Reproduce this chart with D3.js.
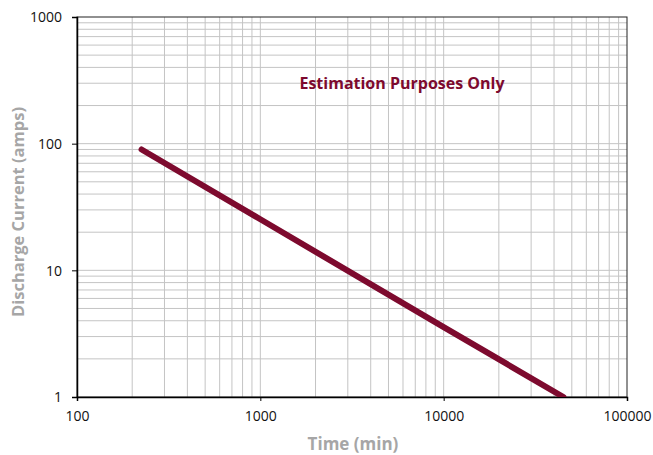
<!DOCTYPE html>
<html>
<head>
<meta charset="utf-8">
<script src="https://cdn.jsdelivr.net/npm/d3@7"></script>
<style>
  body { margin: 0; background: #fff; }
  svg { font-family: "Open Sans", sans-serif; }
</style>
</head>
<body>
<div id="chart"></div>
<script>
// data
const timeMin = [225, 1000, 10000, 45000];
const currentAmps = [90, 25.3, 3.56, 1];
const xTicks = [100, 1000, 10000, 100000];
const yTicks = [1, 10, 100, 1000];

const W = 653, H = 455;
const margin = { top: 17, right: 26, bottom: 58, left: 77 };
const width = W - margin.left - margin.right;
const height = H - margin.top - margin.bottom;

const svg = d3.select("#chart").append("svg")
  .attr("width", W)
  .attr("height", H);

const g = svg.append("g")
  .attr("transform", `translate(${margin.left},${margin.top})`);

const x = d3.scaleLog().domain([100, 100000]).range([0, width]);
const y = d3.scaleLog().domain([1, 1000]).range([height, 0]);

// minor grid values 2..9 per decade
const minor = (lo, hi) => {
  const out = [];
  for (let d = lo; d < hi; d *= 10) {
    for (let k = 1; k <= 9; k++) out.push(d * k);
  }
  return out.filter(v => v > lo && v < hi);
};

// gridlines
g.append("g").selectAll("line")
  .data(minor(100, 100000))
  .join("line")
  .attr("x1", d => x(d)).attr("x2", d => x(d))
  .attr("y1", 0).attr("y2", height)
  .attr("stroke", "#c4c4c4")
  .attr("stroke-width", 1);

g.append("g").selectAll("line")
  .data(minor(1, 1000))
  .join("line")
  .attr("y1", d => y(d)).attr("y2", d => y(d))
  .attr("x1", 0).attr("x2", width)
  .attr("stroke", "#c4c4c4")
  .attr("stroke-width", 1);

// frame
g.append("rect")
  .attr("width", width)
  .attr("height", height)
  .attr("fill", "none")
  .attr("stroke", "#222")
  .attr("stroke-width", 1);

// axes
const xAxis = d3.axisBottom(x).tickValues(xTicks).tickFormat(d3.format("d")).tickSize(4).tickPadding(10);
const yAxis = d3.axisLeft(y).tickValues(yTicks).tickFormat(d3.format("d")).tickSize(5).tickPadding(10);

const gx = g.append("g")
  .attr("transform", `translate(0,${height})`)
  .call(xAxis);
const gy = g.append("g").call(yAxis);

[gx, gy].forEach(a => {
  a.select(".domain").attr("stroke", "#000").attr("stroke-width", 1.5);
  a.selectAll(".tick line").attr("stroke", "#000");
  a.selectAll(".tick text")
    .attr("fill", "#111")
    .style("font-size", "14px")
    .style("font-family", "'Open Sans', sans-serif");
});
gy.selectAll(".tick text").attr("dy", "0.35em");

// clip
svg.append("defs").append("clipPath").attr("id", "plot-clip")
  .append("rect").attr("width", width).attr("height", height);

// line
const line = d3.line()
  .x((d, i) => x(timeMin[i]))
  .y(d => y(d));

g.append("path")
  .datum(currentAmps)
  .attr("clip-path", "url(#plot-clip)")
  .attr("fill", "none")
  .attr("stroke", "#7d0a2e")
  .attr("stroke-width", 6)
  .attr("stroke-linecap", "round")
  .attr("d", line);

// annotation
g.append("text")
  .attr("x", 402 - margin.left)
  .attr("y", 89 - margin.top)
  .attr("text-anchor", "middle")
  .attr("fill", "#7d0a2e")
  .style("font-size", "16px")
  .style("font-weight", "700")
  .text("Estimation Purposes Only");

// axis titles
svg.append("text")
  .attr("x", 353)
  .attr("y", 450)
  .attr("text-anchor", "middle")
  .attr("fill", "#a6a6a6")
  .style("font-size", "17px")
  .style("font-weight", "700")
  .text("Time (min)");

svg.append("text")
  .attr("transform", "rotate(-90)")
  .attr("x", -212)
  .attr("y", 24)
  .attr("text-anchor", "middle")
  .attr("fill", "#a6a6a6")
  .style("font-size", "16.5px")
  .style("font-weight", "700")
  .text("Discharge Current (amps)");
</script>
</body>
</html>
